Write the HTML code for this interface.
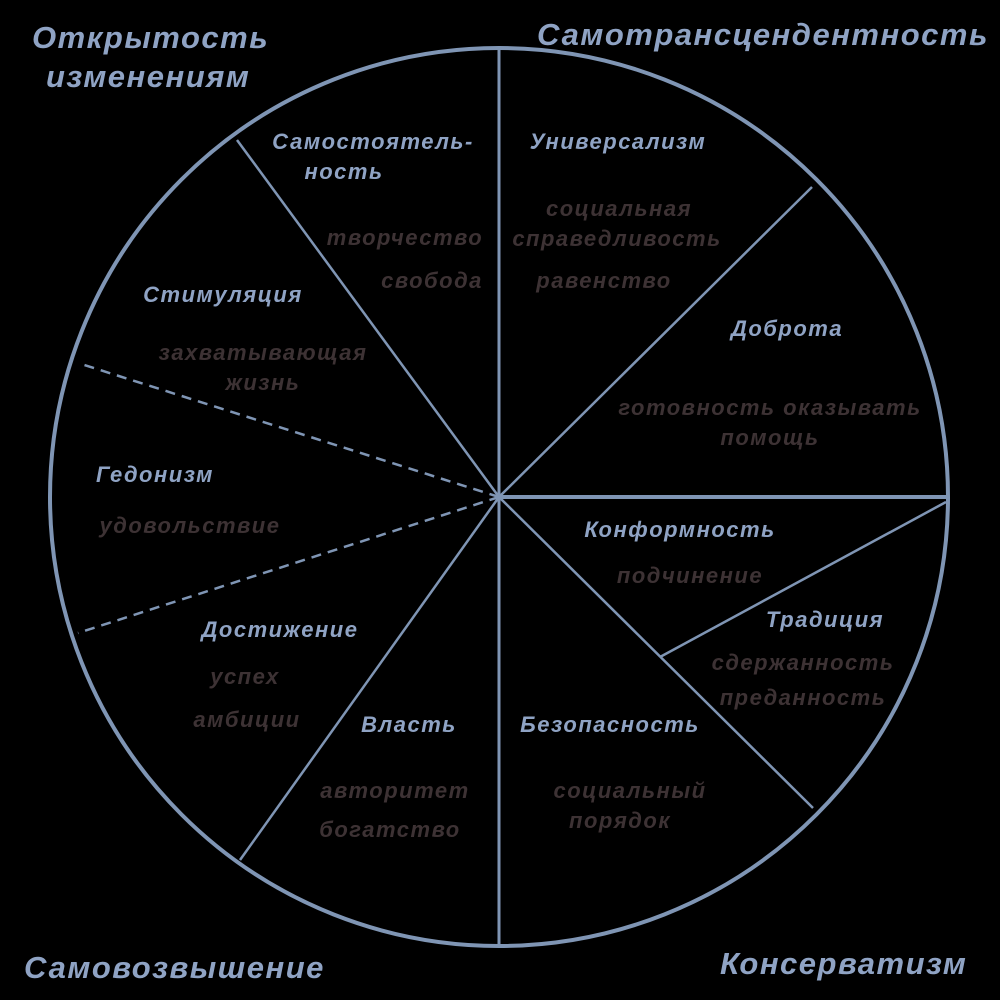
<!DOCTYPE html>
<html><head><meta charset="utf-8"><style>
html,body{margin:0;padding:0;background:#000;}
svg{display:block}
text{font-family:"Liberation Sans",Arial,sans-serif;font-style:italic;font-weight:bold;}
.h{fill:#8fa3c4;font-size:22px;letter-spacing:1.5px}
.s{fill:#3d3234;font-size:22px;letter-spacing:1.5px}
.t{fill:#8fa3c4;font-size:31px;letter-spacing:1.5px}
</style></head><body>
<svg width="1000" height="1000" viewBox="0 0 1000 1000">
<rect width="1000" height="1000" fill="#000"/>
<g stroke="#7f95b4" fill="none">
<circle cx="499" cy="497" r="449" stroke-width="4"/>
<line x1="499" y1="50" x2="499" y2="946" stroke-width="3"/>
<line x1="499" y1="497" x2="947" y2="497" stroke-width="4"/>
<line x1="499" y1="497" x2="812" y2="187" stroke-width="2.5"/>
<line x1="660" y1="657" x2="946" y2="502" stroke-width="2.5"/>
<line x1="499" y1="497" x2="813" y2="808" stroke-width="2.5"/>
<line x1="499" y1="497" x2="240" y2="860" stroke-width="2.5"/>
<line x1="499" y1="497" x2="237" y2="140" stroke-width="2.5"/>
<line x1="499" y1="497" x2="78" y2="363" stroke-width="2.5" stroke-dasharray="10,7"/>
<line x1="499" y1="497" x2="78" y2="633" stroke-width="2.5" stroke-dasharray="10,7"/>
</g>
<text class="t" x="32" y="48">Открытость</text>
<text class="t" x="46" y="87">изменениям</text>
<text class="t" x="537" y="45">Самотрансцендентность</text>
<text class="t" x="24" y="978">Самовозвышение</text>
<text class="t" x="720" y="974">Консерватизм</text>
<g text-anchor="middle">
<text class="h" x="373" y="149">Самостоятель-</text>
<text class="h" x="344" y="179">ность</text>
<text class="s" x="405" y="245">творчество</text>
<text class="s" x="432" y="288">свобода</text>
<text class="h" x="618" y="149">Универсализм</text>
<text class="s" x="619" y="216">социальная</text>
<text class="s" x="617" y="246">справедливость</text>
<text class="s" x="604" y="288">равенство</text>
<text class="h" x="787" y="336">Доброта</text>
<text class="s" x="770" y="415">готовность оказывать</text>
<text class="s" x="770" y="445">помощь</text>
<text class="h" x="223" y="302">Стимуляция</text>
<text class="s" x="263" y="360">захватывающая</text>
<text class="s" x="263" y="390">жизнь</text>
<text class="h" x="155" y="482">Гедонизм</text>
<text class="s" x="190" y="533">удовольствие</text>
<text class="h" x="280" y="637">Достижение</text>
<text class="s" x="245" y="684">успех</text>
<text class="s" x="247" y="727">амбиции</text>
<text class="h" x="409" y="732">Власть</text>
<text class="s" x="395" y="798">авторитет</text>
<text class="s" x="390" y="837">богатство</text>
<text class="h" x="610" y="732">Безопасность</text>
<text class="s" x="630" y="798">социальный</text>
<text class="s" x="620" y="828">порядок</text>
<text class="h" x="680" y="537">Конформность</text>
<text class="s" x="690" y="583">подчинение</text>
<text class="h" x="825" y="627">Традиция</text>
<text class="s" x="803" y="670">сдержанность</text>
<text class="s" x="803" y="705">преданность</text>
</g>
</svg>
</body></html>
